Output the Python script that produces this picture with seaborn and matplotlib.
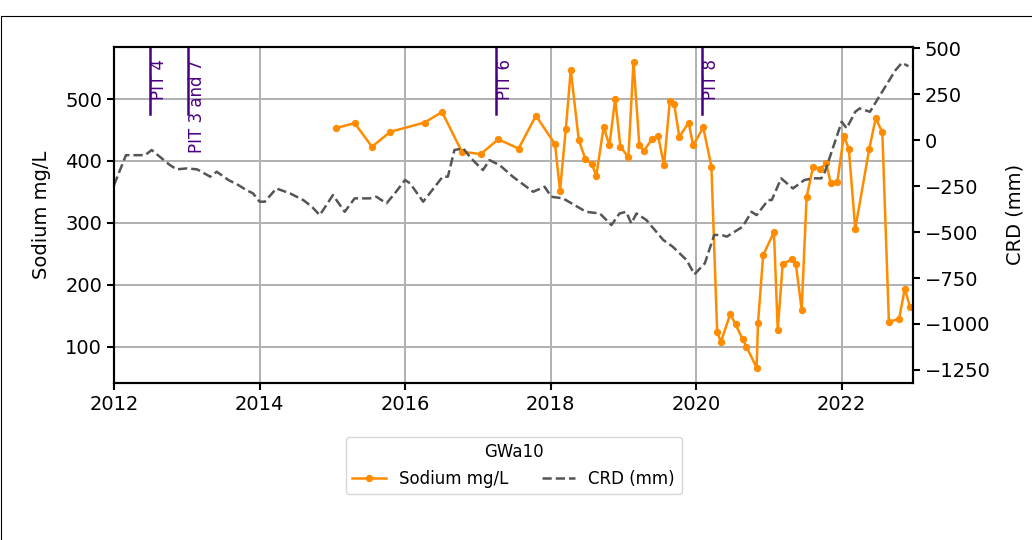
import pandas as pd
import seaborn as sns
import matplotlib
matplotlib.use("Agg")
import matplotlib.pyplot as plt
import matplotlib.dates as mdates
from matplotlib.ticker import MultipleLocator
from matplotlib.patches import Rectangle

# Sodium samples (mg/L) at GWa10
sodium_dates = [
    "2015-01-19", "2015-04-23", "2015-07-19", "2015-10-19", "2016-04-08", "2016-07-05",
    "2016-10-12", "2017-01-15", "2017-04-13", "2017-07-24", "2017-10-19", "2018-01-23",
    "2018-02-17", "2018-03-18", "2018-04-12", "2018-05-22", "2018-06-24", "2018-07-27",
    "2018-08-18", "2018-09-24", "2018-10-23", "2018-11-21", "2018-12-17", "2019-01-26",
    "2019-02-21", "2019-03-22", "2019-04-13", "2019-05-27", "2019-06-25", "2019-07-24",
    "2019-08-22", "2019-09-13", "2019-10-09", "2019-11-25", "2019-12-17", "2020-02-06",
    "2020-03-18", "2020-04-16", "2020-05-05", "2020-06-21", "2020-07-17", "2020-08-22",
    "2020-09-10", "2020-10-31", "2020-11-07", "2020-12-03", "2021-01-26", "2021-02-14",
    "2021-03-11", "2021-04-28", "2021-05-16", "2021-06-14", "2021-07-09", "2021-08-11",
    "2021-09-13", "2021-10-16", "2021-11-07", "2021-12-10", "2022-01-12", "2022-02-06",
    "2022-03-10", "2022-05-19", "2022-06-21", "2022-07-24", "2022-08-26", "2022-10-16",
    "2022-11-14", "2022-12-10",
]
sodium = [
    453, 461, 423, 447, 462, 479,
    415, 411, 435, 420, 473, 427,
    352, 451, 547, 434, 403, 395,
    376, 455, 425, 500, 423, 406,
    560, 426, 416, 436, 440, 393,
    497, 492, 439, 462, 425, 454,
    391, 123, 108, 153, 136, 112,
    100, 66, 139, 248, 285, 127,
    234, 241, 233, 160, 342, 391,
    387, 396, 364, 366, 441, 419,
    290, 419, 469, 446, 140, 145,
    194, 164,
]

# Cumulative rainfall departure (mm)
crd_dates = [
    "2012-01-01", "2012-03-01", "2012-06-05", "2012-07-08", "2012-10-08", "2012-11-10",
    "2013-01-01", "2013-02-21", "2013-04-28", "2013-05-31", "2013-07-28", "2013-09-17",
    "2013-10-27", "2013-11-29", "2014-01-01", "2014-01-27", "2014-03-26", "2014-06-03",
    "2014-08-08", "2014-09-20", "2014-10-30", "2015-01-04", "2015-03-04", "2015-04-23",
    "2015-07-08", "2015-08-10", "2015-09-30", "2015-11-17", "2016-01-01", "2016-01-26",
    "2016-04-01", "2016-07-08", "2016-08-03", "2016-09-05", "2016-10-19", "2016-11-28",
    "2017-01-26", "2017-02-28", "2017-04-20", "2017-06-25", "2017-10-05", "2017-12-02",
    "2018-01-04", "2018-03-04", "2018-06-28", "2018-09-05", "2018-11-02", "2018-12-13",
    "2019-01-15", "2019-02-10", "2019-03-08", "2019-04-27", "2019-07-20", "2019-09-06",
    "2019-11-14", "2019-12-24", "2020-02-14", "2020-04-01", "2020-05-08", "2020-06-03",
    "2020-08-22", "2020-10-05", "2020-10-31", "2020-12-28", "2021-01-15", "2021-03-03",
    "2021-05-01", "2021-06-28", "2021-08-11", "2021-09-21", "2021-10-09", "2022-01-01",
    "2022-01-26", "2022-03-10", "2022-04-01", "2022-05-23", "2022-07-13", "2022-09-28",
    "2022-10-30", "2022-12-02",
]
crd = [
    -245, -82, -82, -54, -136, -159,
    -154, -159, -199, -172, -217, -245,
    -272, -290, -335, -335, -263, -290,
    -326, -362, -408, -299, -390, -317,
    -317, -308, -344, -281, -217, -235,
    -335, -199, -199, -54, -45, -100,
    -163, -109, -136, -199, -281, -254,
    -308, -317, -390, -399, -462, -399,
    -390, -453, -399, -435, -543, -580,
    -652, -730, -670, -516, -516, -525,
    -471, -390, -408, -326, -326, -208,
    -263, -217, -208, -208, -172, 100,
    64, 154, 172, 154, 245, 380,
    420, 402,
]

# Pumping test events
pit_labels = ["PIT 4", "PIT 3 and 7", "PIT 6", "PIT 8"]
pit_dates = ["2012-07-01", "2013-01-04", "2017-04-01", "2020-01-30"]

na = pd.DataFrame({"Date": pd.to_datetime(sodium_dates), "Sodium": sodium})
rain = pd.DataFrame({"Date": pd.to_datetime(crd_dates), "CRD": crd})

plt.rcParams.update({
    "font.size": 14,
    "axes.linewidth": 1.5,
    "xtick.major.width": 1.5,
    "ytick.major.width": 1.5,
    "xtick.major.size": 5,
    "ytick.major.size": 5,
    "grid.linewidth": 1.4,
})

fig, ax = plt.subplots(figsize=(10.32, 5.4), dpi=100)
fig.subplots_adjust(left=114 / 1032, right=913 / 1032, top=1 - 46.5 / 540, bottom=1 - 383 / 540)

sns.lineplot(data=na, x="Date", y="Sodium", ax=ax, color="darkorange", marker="o",
             markersize=4.5, markeredgecolor="darkorange", linewidth=1.8,
             label="Sodium mg/L", legend=False)
ax.set_ylim(41.4, 584.8)
ax.set_ylabel("Sodium mg/L", labelpad=10)
ax.set_xlabel("")
ax.grid(True)

for lab, d in zip(pit_labels, pit_dates):
    ax.axvline(pd.Timestamp(d), ymin=0.8, ymax=1, color="indigo", linewidth=1.8)
    ax.text(pd.Timestamp(d), 0.962, lab, transform=ax.get_xaxis_transform(),
            rotation=90, ha="left", va="top", color="indigo", fontsize=12)

ax2 = ax.twinx()
sns.lineplot(data=rain, x="Date", y="CRD", ax=ax2, color="#555555", linestyle="--",
             linewidth=1.8, label="CRD (mm)", legend=False)
ax2.set_ylim(-1321, 509)
ax2.yaxis.set_major_locator(MultipleLocator(250))
ax2.set_ylabel("CRD (mm)", labelpad=11)

ax.set_xlim(pd.Timestamp("2012-01-01"), pd.Timestamp("2022-12-25"))
ax.xaxis.set_major_locator(mdates.YearLocator(2))
ax.xaxis.set_major_formatter(mdates.DateFormatter("%Y"))

h1, l1 = ax.get_legend_handles_labels()
h2, l2 = ax2.get_legend_handles_labels()
ax.legend(h1 + h2, l1 + l2, title="GWa10", ncol=2, loc="upper center",
          bbox_to_anchor=(0.5, -0.135), fontsize=12, title_fontsize=12)

# frame edge visible along the top and left of the image
fig.add_artist(Rectangle((0.0005, -0.1), 1.2, 1.1 - 16.5 / 540, transform=fig.transFigure,
                         fill=False, edgecolor="black", linewidth=0.8))

fig.savefig("out.png", dpi=100)
